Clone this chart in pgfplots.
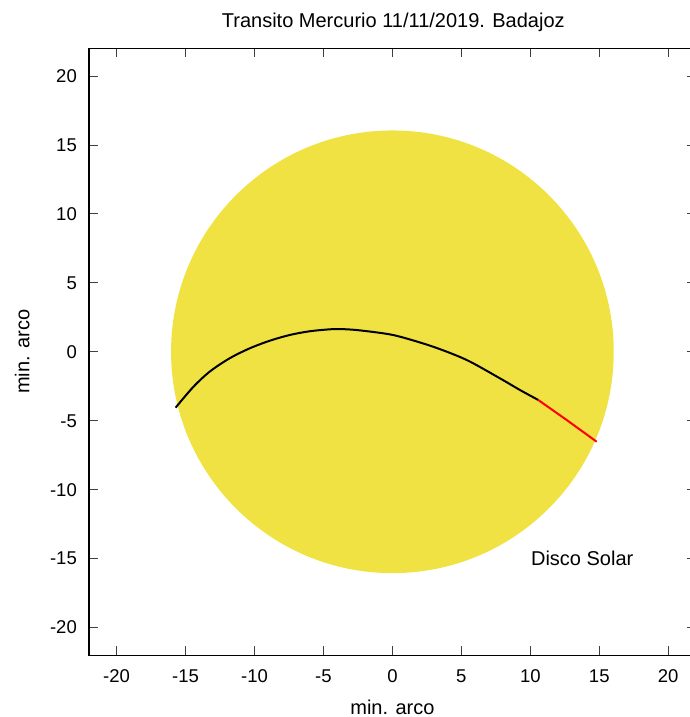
\documentclass[border=0pt]{standalone}
\usepackage{pgfplots}
\pgfplotsset{compat=1.18}
\usepackage{fontspec}
\setmainfont{Liberation Sans}
\definecolor{sun}{RGB}{240,226,66}
\begin{document}
\begin{tikzpicture}
\begin{axis}[
  at={(0pt,0pt)}, anchor=south west,
  scale only axis, width=606.8pt, height=606.8pt,
  xmin=-22, xmax=22, ymin=-22, ymax=22,
  xtick={-20,-15,...,20}, ytick={-20,-15,...,20},
  tick align=inside, major tick length=9pt,
  tick style={line width=0.8pt, color=black!75},
  axis line style={line width=1.2pt},
  /pgf/number format/assume math mode=true,
  ticklabel style={font=\fontsize{18.5}{22}\selectfont, inner sep=0pt},
  xticklabel style={anchor=base, yshift=-27.5pt},
  yticklabel style={anchor=east, xshift=-12pt},
  clip=true,
]
\fill[sun] (axis cs:0,0) circle[radius=16.05];
\addplot[black, line width=2pt, smooth] coordinates {
(-15.72,-4.05) (-14.46,-2.57) (-13.25,-1.44) (-11.80,-0.47) (-10.35,0.25)
(-8.90,0.80) (-7.44,1.22) (-5.99,1.49) (-4.54,1.63) (-3.82,1.65)
(-2.61,1.58) (-0.67,1.34) (0.54,1.10) (2.95,0.37) (5.38,-0.59)
(7.79,-1.92) (9.25,-2.77) (10.57,-3.49)
};
\addplot[red, line width=2pt] coordinates {
(10.57,-3.49) (12.63,-4.94) (14.81,-6.52)
};
\node[anchor=base west, inner sep=0pt, font=\fontsize{20}{24}\selectfont] at (axis cs:10.04,-15.53) {Disco Solar};
\end{axis}
\node[anchor=base, inner sep=0pt, font=\fontsize{20}{24}\selectfont] at (304.3pt,627.5pt) {Transito Mercurio 11/11/2019. Badajoz};
\node[anchor=base, inner sep=0pt, font=\fontsize{20}{24}\selectfont] at (303.4pt,-58.8pt) {min. arco};
\node[anchor=base, rotate=90, inner sep=0pt, font=\fontsize{20}{24}\selectfont] at (-59.7pt,303.4pt) {min. arco};
\pgfresetboundingbox
\useasboundingbox (-89pt,-61.8pt) rectangle (601pt,655.2pt);
\end{tikzpicture}
\end{document}
